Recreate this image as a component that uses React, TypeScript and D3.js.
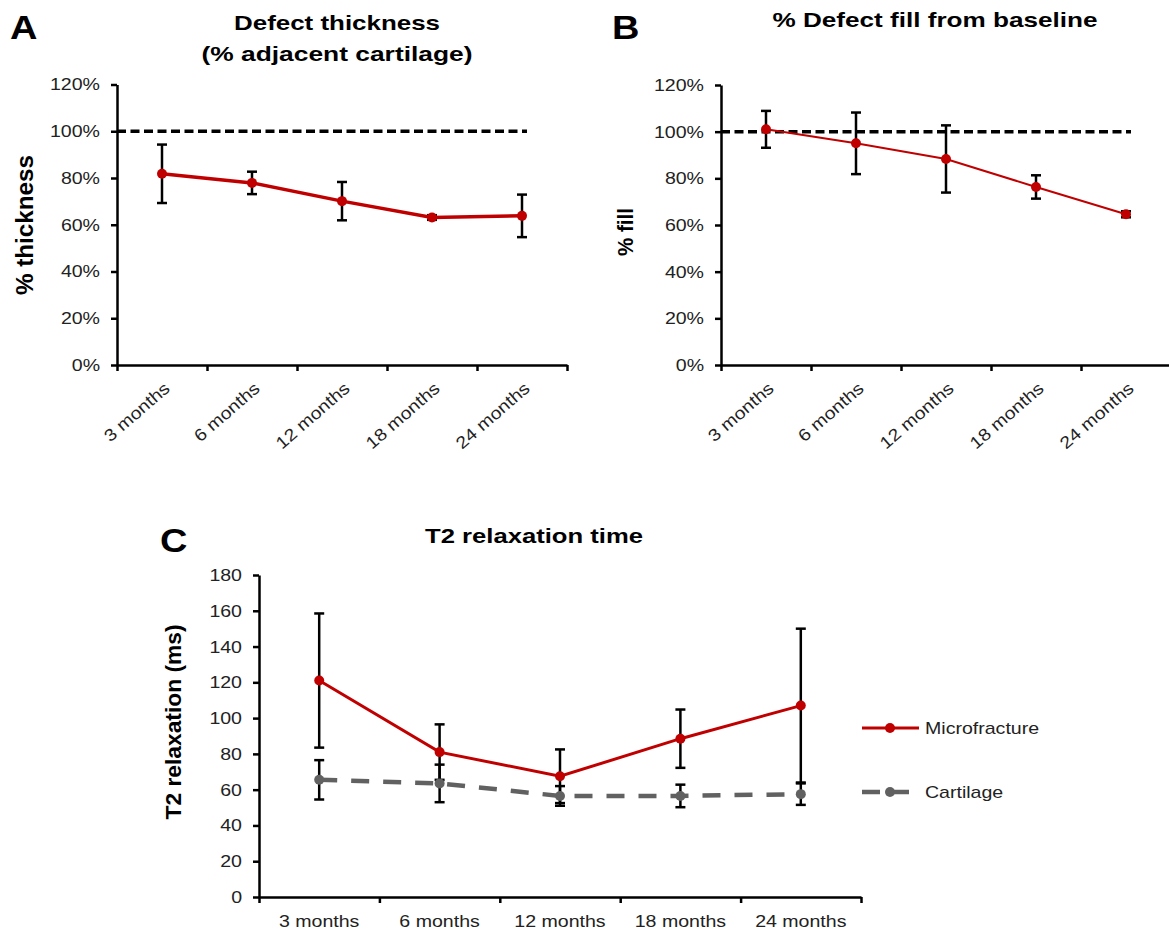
import React, { useEffect, useRef } from "react";
import * as d3 from "d3";

const months = ["3 months", "6 months", "12 months", "18 months", "24 months"];

// panel A - defect thickness (% adjacent cartilage)
const thicknessMean = [0.818, 0.779, 0.701, 0.631, 0.638];
const thicknessErr = [0.125, 0.048, 0.082, 0.01, 0.091];

// panel B - % defect fill from baseline
const fillMean = [1.01, 0.95, 0.883, 0.763, 0.646];
const fillErr = [0.079, 0.132, 0.144, 0.05, 0.013];

// panel C - T2 relaxation time (ms)
const microMean = [121, 81, 67.5, 88.5, 107];
const microErr = [37.5, 15.5, 15, 16.3, 43];
const cartMean = [65.5, 63.5, 56.5, 56.5, 57.5];
const cartErr = [11, 10.5, 5.5, 6.3, 6];

const pctTicks = [0, 0.2, 0.4, 0.6, 0.8, 1.0, 1.2];
const msTicks = [0, 20, 40, 60, 80, 100, 120, 140, 160, 180];
const baseline = 1.0;

const RED = "#c00000";
const GREY = "#616161";
const FONT = "'Liberation Sans', Arial, sans-serif";
// the original figure is a little wider than it is tall, text included
const STRETCH = 1.15;

const App = () => {
   const svgRef = useRef();

   useEffect(() => {
      const svg = d3.select(svgRef.current);
      svg.selectAll("*").remove();

      const widen = sel =>
         sel.each(function () {
            const n = this.getComputedTextLength();
            d3.select(this).attr("textLength", n * STRETCH).attr("lengthAdjust", "spacingAndGlyphs");
         });

      // ---------------------- helper: one panel
      const drawPanel = (opts) => {
         const { xRange, yRange, domain, ticks, fmt, rotate } = opts;
         const x = d3.scaleBand().domain(months).range(xRange);
         const y = d3.scaleLinear().domain(domain).range(yRange);
         const g = svg.append("g");

         // y axis
         const yAxis = g
            .append("g")
            .attr("transform", `translate(${xRange[0]},0)`)
            .call(
               d3
                  .axisLeft(y)
                  .tickValues(ticks)
                  .tickSize(6)
                  .tickSizeOuter(0)
                  .tickPadding(11)
                  .tickFormat(fmt)
            );
         yAxis.select(".domain").attr("stroke", "#000").attr("stroke-width", 2.5);
         yAxis.selectAll(".tick line").attr("stroke", "#000").attr("stroke-width", 2.5);
         yAxis
            .selectAll(".tick text")
            .attr("fill", "#222")
            .style("font-family", FONT)
            .style("font-size", "17px")
            .call(widen);

         // x axis, ticks between categories
         const xb = d3.scaleLinear().domain([0, months.length]).range(xRange);
         const xAxis = g
            .append("g")
            .attr("transform", `translate(0,${yRange[0]})`)
            .call(
               d3
                  .axisBottom(xb)
                  .tickValues(d3.range(months.length + 1))
                  .tickSize(6)
                  .tickSizeOuter(0)
                  .tickFormat("")
            );
         xAxis.select(".domain").attr("stroke", "#000").attr("stroke-width", 2.5);
         xAxis.selectAll(".tick line").attr("stroke", "#000").attr("stroke-width", 2.5);

         // category labels
         const labels = g
            .selectAll(".xlab")
            .data(months)
            .join("text")
            .attr("class", "xlab")
            .attr("fill", "#222")
            .style("font-family", FONT)
            .style("font-size", "17px")
            .text(d => d);
         if (rotate) {
            labels
               .attr("text-anchor", "end")
               .attr(
                  "transform",
                  d => `translate(${x(d) + x.bandwidth() / 2 + 9},${yRange[0] + 25}) rotate(-41)`
               );
         } else {
            labels
               .attr("text-anchor", "middle")
               .attr("x", d => x(d) + x.bandwidth() / 2)
               .attr("y", yRange[0] + 30);
         }
         labels.call(widen);
         return { g, x, y };
      };

      const errorBars = (g, x, y, mean, err, w) => {
         const cx = i => x(months[i]) + x.bandwidth() / 2;
         const eg = g.append("g").attr("stroke", "#000").attr("stroke-width", w);
         mean.forEach((m, i) => {
            const top = y(m + err[i]);
            const bot = y(m - err[i]);
            eg.append("line").attr("x1", cx(i)).attr("x2", cx(i)).attr("y1", top).attr("y2", bot);
            eg.append("line").attr("x1", cx(i) - 5).attr("x2", cx(i) + 5).attr("y1", top).attr("y2", top);
            eg.append("line").attr("x1", cx(i) - 5).attr("x2", cx(i) + 5).attr("y1", bot).attr("y2", bot);
         });
      };

      const series = (g, x, y, mean, color, width, dash) => {
         const cx = (d, i) => x(months[i]) + x.bandwidth() / 2;
         const line = d3
            .line()
            .x(cx)
            .y(d => y(d));
         g.append("path")
            .datum(mean)
            .attr("d", line)
            .attr("fill", "none")
            .attr("stroke", color)
            .attr("stroke-width", width)
            .attr("stroke-dasharray", dash || null);
         g.selectAll(null)
            .data(mean)
            .join("circle")
            .attr("cx", cx)
            .attr("cy", d => y(d))
            .attr("r", 5)
            .attr("fill", color);
      };

      const refLine = (g, x, y) => {
         g.append("line")
            .attr("x1", x.range()[0])
            .attr("x2", x(months[months.length - 1]) + x.bandwidth() / 2 + 5)
            .attr("y1", y(baseline))
            .attr("y2", y(baseline))
            .attr("stroke", "#000")
            .attr("stroke-width", 3.5)
            .attr("stroke-dasharray", "9,4.5");
      };

      const pct = d3.format(".0%");

      // ---------------------- panel A
      const A = drawPanel({ xRange: [117, 567], yRange: [365, 84.5], domain: [0, 1.2], ticks: pctTicks, fmt: pct, rotate: true });
      refLine(A.g, A.x, A.y);
      errorBars(A.g, A.x, A.y, thicknessMean, thicknessErr, 2.5);
      series(A.g, A.x, A.y, thicknessMean, RED, 3.5);

      // ---------------------- panel B
      const B = drawPanel({ xRange: [721, 1171], yRange: [365, 85], domain: [0, 1.2], ticks: pctTicks, fmt: pct, rotate: true });
      refLine(B.g, B.x, B.y);
      errorBars(B.g, B.x, B.y, fillMean, fillErr, 2.5);
      series(B.g, B.x, B.y, fillMean, RED, 2);

      // ---------------------- panel C
      const C = drawPanel({ xRange: [259, 861], yRange: [897, 575], domain: [0, 180], ticks: msTicks, fmt: d3.format("d"), rotate: false });
      errorBars(C.g, C.x, C.y, microMean, microErr, 2.5);
      errorBars(C.g, C.x, C.y, cartMean, cartErr, 2.5);
      series(C.g, C.x, C.y, cartMean, GREY, 4.5, "18,14");
      series(C.g, C.x, C.y, microMean, RED, 3);

      // legend
      const legend = svg.append("g");
      const items = [
         { label: "Microfracture", color: RED, width: 3, dash: null, y: 728 },
         { label: "Cartilage", color: GREY, width: 4.5, dash: "18,11", y: 792 }
      ];
      items.forEach(it => {
         legend.append("line")
            .attr("x1", 862).attr("x2", 919)
            .attr("y1", it.y).attr("y2", it.y)
            .attr("stroke", it.color)
            .attr("stroke-width", it.width)
            .attr("stroke-dasharray", it.dash);
         legend.append("circle").attr("cx", 890).attr("cy", it.y).attr("r", 5).attr("fill", it.color);
         legend.append("text")
            .attr("x", 925).attr("y", it.y + 6)
            .attr("fill", "#222")
            .style("font-family", FONT)
            .style("font-size", "17px")
            .text(it.label)
            .call(widen);
      });

      // ---------------------- titles
      const titles = [
         { t: "Defect thickness", x: 337, y: 30, len: 206 },
         { t: "(% adjacent cartilage)", x: 337, y: 61, len: 271 },
         { t: "% Defect fill from baseline", x: 935, y: 27, len: 325 },
         { t: "T2 relaxation time", x: 534, y: 543, len: 218 }
      ];
      svg.selectAll(".title")
         .data(titles)
         .join("text")
         .attr("class", "title")
         .attr("x", d => d.x)
         .attr("y", d => d.y)
         .attr("text-anchor", "middle")
         .attr("textLength", d => d.len)
         .attr("lengthAdjust", "spacingAndGlyphs")
         .style("font-family", FONT)
         .style("font-weight", "bold")
         .style("font-size", "21px")
         .text(d => d.t);

      const yTitles = [
         { t: "% thickness", x: 25, y: 225, len: 140, size: 23 },
         { t: "% fill", x: 625, y: 232, len: 48, size: 22 },
         { t: "T2 relaxation (ms)", x: 173, y: 722, len: 195, size: 22 }
      ];
      svg.selectAll(".ytitle")
         .data(yTitles)
         .join("text")
         .attr("class", "ytitle")
         .attr("text-anchor", "middle")
         .attr("transform", d => `translate(${d.x + 8},${d.y}) rotate(-90)`)
         .attr("textLength", d => d.len)
         .attr("lengthAdjust", "spacingAndGlyphs")
         .style("font-family", FONT)
         .style("font-weight", "bold")
         .style("font-size", d => d.size + "px")
         .text(d => d.t);

      const letters = [
         { t: "A", x: 10, y: 39 },
         { t: "B", x: 612, y: 39 },
         { t: "C", x: 160, y: 552 }
      ];
      svg.selectAll(".letter")
         .data(letters)
         .join("text")
         .attr("class", "letter")
         .attr("x", d => d.x)
         .attr("y", d => d.y)
         .style("font-family", FONT)
         .style("font-weight", "bold")
         .style("font-size", "33px")
         .text(d => d.t)
         .call(widen);
   }, []);

   return (
      <div style={{ position: "absolute", left: 0, top: 0 }}>
         <svg ref={svgRef} width={1169} height={932} style={{ display: "block", background: "#fff" }} />
      </div>
   );
};

export default App;
